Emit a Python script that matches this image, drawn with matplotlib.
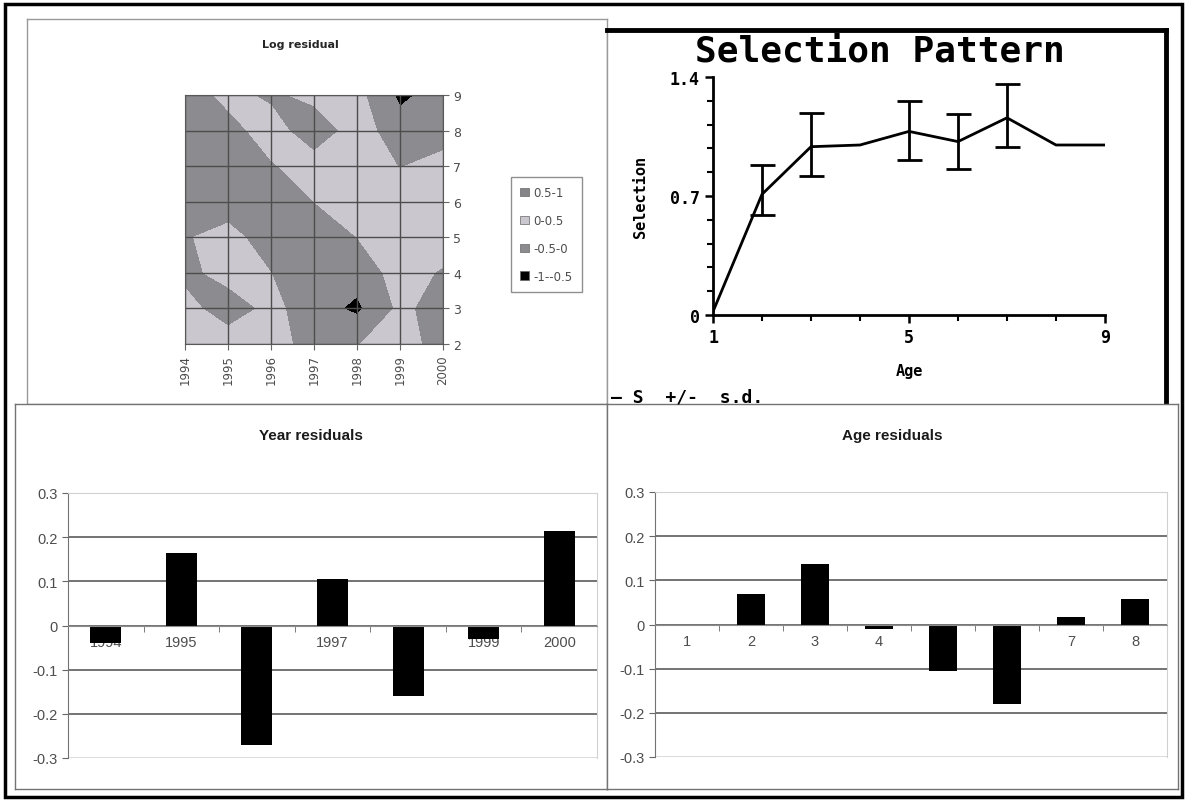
import numpy as np
import matplotlib
matplotlib.use("Agg")
import matplotlib.pyplot as plt
from matplotlib.patches import Patch, Rectangle

# ---- data ----
years = [1994, 1995, 1996, 1997, 1998, 1999, 2000]
ages_grid = [2, 3, 4, 5, 6, 7, 8, 9]
# log residual at each (age, year) node, rows = ages 2..9
log_resid = np.array([
    [0.30, 0.30, 0.20, -0.20, -0.02, 0.20, -0.20],   # age 2
    [0.20, -0.30, 0.15, -0.30, -0.60, 0.10, -0.20],  # age 3
    [-0.15, 0.20, 0.00, -0.30, -0.30, 0.20, -0.05],  # age 4
    [-0.05, 0.20, -0.30, -0.25, 0.00, 0.30, 0.25],   # age 5
    [-0.20, -0.30, -0.30, 0.00, 0.30, 0.30, 0.30],   # age 6
    [-0.25, -0.30, -0.05, 0.25, 0.30, -0.02, 0.15],  # age 7
    [-0.30, -0.20, 0.25, -0.35, 0.25, -0.30, -0.20], # age 8
    [-0.30, 0.15, -0.10, 0.15, 0.15, -0.60, -0.30],  # age 9
])
contour_levels = [-1, -0.5, 0, 0.5, 1]
legend_labels = ["0.5-1", "0-0.5", "-0.5-0", "-1--0.5"]

sel_age = [1, 2, 3, 4, 5, 6, 7, 8, 9]
selection = [0.02, 0.71, 0.99, 1.00, 1.08, 1.02, 1.16, 1.00, 1.00]
err_age = [2, 3, 5, 6, 7]
err_lo = [0.59, 0.82, 0.91, 0.86, 0.99]
err_hi = [0.88, 1.19, 1.26, 1.18, 1.36]

year_cats = ["1994", "1995", "1996", "1997", "1998", "1999", "2000"]
year_resid = [-0.04, 0.165, -0.27, 0.105, -0.16, -0.03, 0.215]

age_cats = ["1", "2", "3", "4", "5", "6", "7", "8"]
age_resid = [0.0, 0.068, 0.138, -0.01, -0.105, -0.18, 0.018, 0.057]

resid_ticks = [-0.3, -0.2, -0.1, 0, 0.1, 0.2, 0.3]

DARK = "#8c8c90"
DARK2 = "#858589"
LIGHT = "#cac8ce"
TXT = "0.3"
NARROW = ["Liberation Sans Narrow", "Liberation Sans", "DejaVu Sans"]
MONO = ["DejaVu Sans Mono"]

W, H = 1187, 803
fig = plt.figure(figsize=(W / 100, H / 100), dpi=100)


def rect(x0, y0, x1, y1):
    return [x0 / W, 1 - y1 / H, (x1 - x0) / W, (y1 - y0) / H]


def panel(x0, y0, x1, y1, ec="0.6", lw=1.0):
    ax = fig.add_axes(rect(x0, y0, x1, y1))
    ax.set_xticks([]); ax.set_yticks([])
    for s in ax.spines.values():
        s.set_color(ec); s.set_linewidth(lw)
    return ax


# ---- top-left: contour of log residuals ----
panel(27, 20, 607, 405)
ax = fig.add_axes(rect(185, 96, 443, 345))
ax.contourf(years, ages_grid, log_resid, levels=contour_levels,
            colors=["black", DARK, LIGHT, DARK2])
ax.set_xlim(1994, 2000); ax.set_ylim(2, 9)
ax.set_xticks(years)
ax.set_xticklabels(year_cats, rotation=90, fontsize=8.5, color=TXT)
ax.set_yticks(ages_grid)
ax.yaxis.tick_right()
ax.tick_params(axis="y", labelsize=9, labelcolor=TXT, length=4, color="0.4")
ax.tick_params(axis="x", length=4, color="0.4")
ax.grid(True, color="0.3", lw=1.0)
for s in ax.spines.values():
    s.set_color("0.35")
fig.text(300 / W, 1 - 45 / H, "Log residual", ha="center", va="center",
         fontsize=8, fontweight="bold", color="0.15")
handles = [Patch(facecolor=c, edgecolor="0.4", lw=0.5)
           for c in [DARK2, LIGHT, DARK, "black"]]
fig.legend(handles, legend_labels, loc="upper left",
           bbox_to_anchor=(511 / W, 1 - 178 / H), fontsize=8.5,
           frameon=True, fancybox=False, edgecolor="0.45",
           handlelength=0.7, handleheight=0.7, handletextpad=0.4,
           labelspacing=1.25, borderpad=0.8, borderaxespad=0, labelcolor=TXT)

# ---- top-right: selection pattern ----
bg = panel(607, 31, 1166, 414)
bg.spines["top"].set_color("black"); bg.spines["top"].set_linewidth(3.5)
bg.spines["right"].set_color("black"); bg.spines["right"].set_linewidth(3.5)
bg.spines["left"].set_color("0.6")
fig.text(880 / W, 1 - 61 / H, "Selection Pattern", ha="center", va="baseline",
         fontsize=26, fontweight="bold", family=MONO)
fig.text(611 / W, 1 - 398 / H, "\u2014 S  +/-  s.d.", ha="left", va="center",
         fontsize=13, fontweight="bold", family=MONO)

ax = fig.add_axes(rect(713, 78, 1105, 316))
ax.plot(sel_age, selection, color="black", lw=2)
err_mid = [selection[sel_age.index(a)] for a in err_age]
err = np.array([np.subtract(err_mid, err_lo), np.subtract(err_hi, err_mid)])
ax.errorbar(err_age, err_mid, yerr=err, fmt="none",
            ecolor="black", elinewidth=2, capsize=9, capthick=2)
ax.set_xlim(1, 9); ax.set_ylim(0, 1.4)
ax.set_xticks([1, 5, 9]); ax.set_xticks(sel_age, minor=True)
ax.set_yticks([0, 0.7, 1.4]); ax.set_yticks(np.arange(0, 1.41, 0.14), minor=True)
ax.set_yticklabels(["0", "0.7", "1.4"])
for lab in ax.get_xticklabels() + ax.get_yticklabels():
    lab.set_family(MONO); lab.set_fontweight("bold"); lab.set_fontsize(12)
ax.tick_params(which="major", length=6, width=1.8, direction="out")
ax.tick_params(which="minor", length=4, width=1.5, direction="out")
ax.spines["top"].set_visible(False); ax.spines["right"].set_visible(False)
ax.spines["left"].set_linewidth(2); ax.spines["bottom"].set_linewidth(2)
ax.set_xlabel("Age", family=MONO, fontweight="bold", fontsize=11, labelpad=12)
ax.set_ylabel("Selection", family=MONO, fontweight="bold", fontsize=11, labelpad=16)
ax.patch.set_alpha(0)


# ---- bottom: residual bar charts ----
def bar_panel(box, plot_box, title, cats, vals, width):
    panel(*box, ec="0.45")
    ax = fig.add_axes(rect(*plot_box))
    x = np.arange(len(cats))
    ax.bar(x, vals, width, color="black")
    ax.set_xlim(-0.5, len(cats) - 0.5); ax.set_ylim(-0.3, 0.3)
    ax.set_yticks(resid_ticks)
    ax.set_yticklabels([f"{v:g}" for v in resid_ticks])
    ax.set_xticks(x); ax.set_xticklabels(cats)
    ax.set_xticks(np.arange(len(cats) + 1) - 0.5, minor=True)
    ax.spines["bottom"].set_position(("data", 0))
    ax.spines["bottom"].set_color("0.55")
    ax.spines["left"].set_color("0.45")
    ax.spines["top"].set_color("0.82"); ax.spines["right"].set_color("0.82")
    ax.tick_params(axis="x", which="major", length=0, pad=7, labelsize=10.5,
                   labelcolor=TXT)
    ax.tick_params(axis="x", which="minor", length=4, color="0.4")
    ax.tick_params(axis="y", length=4, color="0.4", labelsize=10.5, labelcolor=TXT)
    for lab in ax.get_xticklabels() + ax.get_yticklabels():
        lab.set_family(NARROW)
    ax.yaxis.grid(True, color="0.3", lw=1.1)
    gl = ax.get_ygridlines()
    gl[0].set_color("0.82"); gl[-1].set_color("0.82")
    ax.set_axisbelow(True)
    cx = (box[0] + box[2]) / 2
    fig.text(cx / W, 1 - 436 / H, title, ha="center", va="center",
             fontsize=11, fontweight="bold", family=NARROW, color="0.1")


bar_panel((15, 405, 607, 790), (68, 494, 597, 759), "Year residuals",
          year_cats, year_resid, 0.41)
bar_panel((607, 405, 1178, 790), (655, 493, 1167, 758), "Age residuals",
          age_cats, age_resid, 0.45)

# outer frame
fig.add_artist(Rectangle((5 / W, 5 / H), 1 - 10 / W, 1 - 10 / H,
                         transform=fig.transFigure, fill=False,
                         edgecolor="black", lw=2.5, zorder=20))

fig.savefig("out.png", dpi=100)
